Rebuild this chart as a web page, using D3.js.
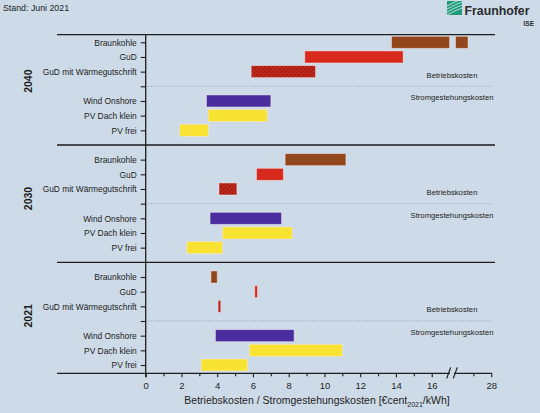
<!DOCTYPE html>
<html>
<head>
<meta charset="utf-8">
<script src="https://cdn.jsdelivr.net/npm/d3@7"></script>
<style>
  body { margin: 0; background: #cddbe8; }
  svg { display: block; font-family: 'Liberation Sans', Arial, sans-serif; }
</style>
</head>
<body>
<script>
// rows of each year block, the empty one is the dotted divider
const categories = ['Braunkohle', 'GuD', 'GuD mit Wärmegutschrift', '', 'Wind Onshore', 'PV Dach klein', 'PV frei']
const years = ['2040', '2030', '2021']

const low2040 = [13.75, 8.9, 5.9, null, 3.4, 3.5, 1.9]
const high2040 = [26.7, 14.4, 9.5, null, 7.0, 6.8, 3.5]
const low2030 = [7.8, 6.2, 4.1, null, 3.6, 4.3, 2.3]
const high2030 = [11.2, 7.7, 5.1, null, 7.6, 8.2, 4.3]
const low2021 = [3.65, 6.1, 4.05, null, 3.9, 5.8, 3.1]
const high2021 = [4.0, 6.25, 4.2, null, 8.3, 11.0, 5.7]

const majorTicks = [0, 2, 4, 6, 8, 10, 12, 14, 16, 28]
const minorTicks = [1, 3, 5, 7, 9, 11, 13, 15, 27]
const breakFrom = 17
const breakTo = 26

const lows = [low2040, low2030, low2021]
const highs = [high2040, high2030, high2021]

const colors = {
  'Braunkohle': '#92461b',
  'GuD': '#d8291d',
  'GuD mit Wärmegutschrift': 'url(#hatch)',
  'Wind Onshore': '#4a2e9f',
  'PV Dach klein': '#f8e232',
  'PV frei': '#f8e232'
}

const W = 540
const H = 413
const blockSize = categories.length + 1

const svg = d3.select('body').append('svg').attr('width', W).attr('height', H)

const defs = svg.append('defs')
const hatch = defs.append('pattern')
  .attr('id', 'hatch')
  .attr('patternUnits', 'userSpaceOnUse')
  .attr('width', 3).attr('height', 3)
  .attr('patternTransform', 'rotate(45)')
hatch.append('rect').attr('width', 3).attr('height', 3).attr('fill', '#cc2a1e')
hatch.append('line').attr('x1', 0.7).attr('x2', 0.7).attr('y1', 0).attr('y2', 3)
  .attr('stroke', '#8a1812').attr('stroke-width', 1.1)

// broken x scale: 0..17, gap, 26..28
const x = d3.scaleLinear()
  .domain([0, breakFrom, breakTo, 28])
  .range([145.7, 449.6, 455.5, 491.25])

const y = d3.scaleLinear().domain([0, 22]).range([42.3, 365])
const barH = 12

const lineLeft = 57
const lineRight = 495
const axisY = y(22.57)

// year blocks
years.forEach((yr, b) => {
  const base = b * blockSize
  const top = b === 0 ? y(-0.52) : y(base - 1)

  svg.append('line')
    .attr('x1', lineLeft).attr('x2', lineRight)
    .attr('y1', top).attr('y2', top)
    .attr('stroke', '#1d1d1d').attr('stroke-width', 1.3)

  svg.append('text')
    .attr('transform', `translate(27.5,${y(base + 2.65)}) rotate(-90)`)
    .attr('text-anchor', 'middle')
    .attr('dominant-baseline', 'central')
    .attr('font-size', 10.5)
    .attr('font-weight', 'bold')
    .attr('fill', '#1d1d1d')
    .text(yr)

  const dotRow = categories.indexOf('')
  svg.append('line')
    .attr('x1', x(0)).attr('x2', 492)
    .attr('y1', y(base + dotRow)).attr('y2', y(base + dotRow))
    .attr('stroke', '#8797a6').attr('stroke-width', 0.8)
    .attr('stroke-dasharray', '1,1.6')

  svg.append('text')
    .attr('x', 452).attr('y', y(base + dotRow) - 11)
    .attr('text-anchor', 'middle').attr('dominant-baseline', 'central')
    .attr('font-size', 7.7).attr('fill', '#222')
    .text('Betriebskosten')
  svg.append('text')
    .attr('x', 452).attr('y', y(base + dotRow) + 11.5)
    .attr('text-anchor', 'middle').attr('dominant-baseline', 'central')
    .attr('font-size', 7.7).attr('fill', '#222')
    .text('Stromgestehungskosten')

  categories.forEach((cat, i) => {
    const lo = lows[b][i]
    const hi = highs[b][i]
    if (lo === null) return
    // split bars that run across the axis break
    const parts = hi > breakFrom && lo < breakTo
      ? [[lo, breakFrom], [breakTo, hi]]
      : [[lo, hi]]
    parts.forEach(([a, c]) => {
      svg.append('rect')
        .attr('x', x(a))
        .attr('y', y(base + i) - barH / 2)
        .attr('width', x(c) - x(a))
        .attr('height', barH)
        .attr('fill', colors[cat])
        .attr('stroke', 'rgba(255,235,235,0.55)')
        .attr('stroke-width', 0.8)
    })
  })
})

// y axis with category ticks
const rowTicks = d3.range(0, years.length * blockSize - 1).filter(k => k % blockSize < categories.length)
const yAxis = d3.axisLeft(y)
  .tickValues(rowTicks)
  .tickSize(5)
  .tickPadding(4)
  .tickFormat(k => categories[k % blockSize])
const gy = svg.append('g').attr('transform', `translate(${x(0)},0)`).call(yAxis)
gy.select('.domain').remove()
gy.selectAll('line').attr('stroke', '#1d1d1d').attr('stroke-width', 1.1)
gy.selectAll('text').attr('font-size', 8.4).attr('fill', '#222')
  .attr('font-family', "'Liberation Sans', Arial, sans-serif")

svg.append('line')
  .attr('x1', x(0)).attr('x2', x(0))
  .attr('y1', y(-0.52)).attr('y2', axisY + 4)
  .attr('stroke', '#1d1d1d').attr('stroke-width', 1.3)

// x axis
const gx = svg.append('g').attr('transform', `translate(0,${axisY})`)
  .call(d3.axisBottom(x).tickValues(majorTicks).tickSize(4).tickPadding(5).tickFormat(d => d))
gx.select('.domain').remove()
gx.selectAll('line').attr('stroke', '#1d1d1d').attr('stroke-width', 1.1)
gx.selectAll('text').attr('font-size', 9.5).attr('fill', '#222')
  .attr('font-family', "'Liberation Sans', Arial, sans-serif")

const gm = svg.append('g').attr('transform', `translate(0,${axisY})`)
  .call(d3.axisBottom(x).tickValues(minorTicks).tickSize(3).tickFormat(''))
gm.select('.domain').remove()
gm.selectAll('line').attr('stroke', '#1d1d1d').attr('stroke-width', 1.1)

svg.append('line')
  .attr('x1', lineLeft).attr('x2', 450)
  .attr('y1', axisY).attr('y2', axisY)
  .attr('stroke', '#1d1d1d').attr('stroke-width', 1.3)
svg.append('line')
  .attr('x1', 454).attr('x2', x(28) + 0.6)
  .attr('y1', axisY).attr('y2', axisY)
  .attr('stroke', '#1d1d1d').attr('stroke-width', 1.3)

// break marks
;[0, 6.6].forEach(dx => {
  svg.append('line')
    .attr('x1', 446.7 + dx).attr('x2', 450.7 + dx)
    .attr('y1', axisY + 5).attr('y2', axisY - 6)
    .attr('stroke', '#1d1d1d').attr('stroke-width', 1.2)
})

const title = svg.append('text')
  .attr('x', 317).attr('y', 404)
  .attr('text-anchor', 'middle')
  .attr('font-size', 10.5).attr('fill', '#222')
title.append('tspan').text('Betriebskosten / Stromgestehungskosten [€cent')
title.append('tspan').attr('dy', 2.5).attr('font-size', 7).text('2021')
title.append('tspan').attr('dy', -2.5).text('/kWh]')

svg.append('text')
  .attr('x', 3).attr('y', 11)
  .attr('font-size', 8.8).attr('fill', '#222')
  .text('Stand: Juni 2021')

// Fraunhofer logo
const logo = svg.append('g').attr('transform', 'translate(447,1)')
logo.append('rect').attr('width', 15).attr('height', 14).attr('fill', '#1f9b7c')
;[3, 6, 9, 12].forEach(o => {
  logo.append('path')
    .attr('d', `M0,${o + 2} Q7,${o - 2} 15,${o - 5}`)
    .attr('fill', 'none').attr('stroke', '#d8efe7').attr('stroke-width', 0.8)
})
svg.append('text')
  .attr('x', 464.5).attr('y', 15)
  .attr('font-size', 13).attr('font-weight', 'bold').attr('fill', '#2b2b2b')
  .attr('textLength', 65).attr('lengthAdjust', 'spacingAndGlyphs')
  .text('Fraunhofer')
svg.append('text')
  .attr('x', 534).attr('y', 25.5)
  .attr('text-anchor', 'end')
  .attr('font-size', 6.5).attr('font-weight', 'bold').attr('fill', '#2b2b2b')
  .text('ISE')
</script>
</body>
</html>
